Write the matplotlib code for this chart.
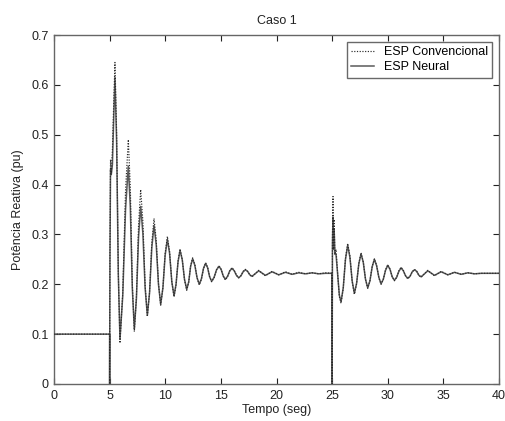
import matplotlib
matplotlib.use("Agg")
import matplotlib.pyplot as plt

plt.rcParams['font.family'] = ['Liberation Sans', 'DejaVu Sans']

# first disturbance (t = 0 .. 25 s)
t_1 = [0, 5.0, 5.0, 5.03, 5.08, 5.15, 5.25, 5.35, 5.48, 5.63, 5.78, 5.93,
       6.18, 6.43, 6.68, 6.86, 7.04, 7.22, 7.41, 7.60, 7.79, 7.99, 8.19, 8.39,
       8.59, 8.79, 8.99, 9.19, 9.39, 9.59, 9.79, 9.99, 10.19, 10.39, 10.59, 10.79,
       10.97, 11.15, 11.33, 11.53, 11.73, 11.93, 12.11, 12.28, 12.46, 12.66, 12.86, 13.06,
       13.25, 13.44, 13.63, 13.81, 13.99, 14.17, 14.39, 14.61, 14.83, 15.02, 15.21, 15.4,
       15.6, 15.8, 16.0, 16.2, 16.4, 16.6, 16.8, 17.0, 17.2, 17.4, 17.6, 17.8,
       18.4, 19.0, 19.6, 20.2, 20.8, 21.4, 22.0, 22.6, 23.2, 23.8, 24.4, 24.98]
conv_1 = [0.1, 0.1, 0.0, 0.26, 0.45, 0.42, 0.47, 0.55, 0.645, 0.504, 0.223, 0.082,
          0.184, 0.388, 0.49, 0.394, 0.201, 0.105, 0.176, 0.319, 0.39, 0.326, 0.199, 0.135,
          0.184, 0.283, 0.332, 0.289, 0.202, 0.158, 0.193, 0.262, 0.296, 0.266, 0.205, 0.175,
          0.199, 0.247, 0.271, 0.250, 0.209, 0.188, 0.204, 0.237, 0.253, 0.240, 0.213, 0.199,
          0.210, 0.232, 0.243, 0.234, 0.215, 0.205, 0.213, 0.229, 0.237, 0.230, 0.216, 0.209,
          0.215, 0.227, 0.233, 0.228, 0.218, 0.213, 0.217, 0.226, 0.230, 0.226, 0.219, 0.215,
          0.228, 0.217, 0.226, 0.219, 0.225, 0.220, 0.224, 0.221, 0.223, 0.221, 0.223, 0.222]
neur_1 = [0.1, 0.1, 0.0, 0.255, 0.43, 0.42, 0.44, 0.52, 0.615, 0.484, 0.221, 0.09,
          0.177, 0.350, 0.437, 0.355, 0.192, 0.11, 0.172, 0.295, 0.356, 0.302, 0.193, 0.138,
          0.183, 0.273, 0.318, 0.279, 0.200, 0.16, 0.193, 0.258, 0.29, 0.262, 0.205, 0.177,
          0.200, 0.245, 0.268, 0.249, 0.210, 0.19, 0.205, 0.236, 0.251, 0.238, 0.213, 0.2,
          0.211, 0.232, 0.242, 0.233, 0.215, 0.206, 0.214, 0.229, 0.236, 0.230, 0.217, 0.21,
          0.216, 0.227, 0.232, 0.227, 0.218, 0.213, 0.217, 0.225, 0.229, 0.226, 0.219, 0.216,
          0.227, 0.218, 0.225, 0.219, 0.224, 0.220, 0.223, 0.221, 0.223, 0.221, 0.222, 0.222]

# second disturbance (t = 25 .. 40 s)
t_2 = [25.0, 25.03, 25.08, 25.12, 25.18, 25.25, 25.35, 25.5, 25.65, 25.8,
       26.0, 26.2, 26.4, 26.6, 26.8, 27.0, 27.2, 27.4, 27.6, 27.8, 28.0, 28.2,
       28.4, 28.6, 28.8, 29.0, 29.2, 29.4, 29.6, 29.8, 30.0, 30.2, 30.4, 30.6,
       30.8, 31.0, 31.2, 31.4, 31.6, 31.8, 32.0, 32.2, 32.4, 32.6, 32.8, 33.0,
       33.6, 34.2, 34.8, 35.4, 36.0, 36.6, 37.2, 37.8, 38.4, 40.0]
conv_2 = [0.0, 0.30, 0.376, 0.27, 0.33, 0.26, 0.27, 0.22, 0.175, 0.162,
          0.192, 0.252, 0.282, 0.257, 0.206, 0.180, 0.201, 0.242, 0.263, 0.245, 0.210, 0.192,
          0.207, 0.236, 0.251, 0.238, 0.213, 0.200, 0.210, 0.229, 0.239, 0.231, 0.215, 0.207,
          0.214, 0.227, 0.234, 0.228, 0.217, 0.211, 0.216, 0.225, 0.230, 0.226, 0.218, 0.214,
          0.228, 0.217, 0.226, 0.219, 0.224, 0.220, 0.223, 0.221, 0.222, 0.222]
neur_2 = [0.0, 0.28, 0.335, 0.27, 0.31, 0.26, 0.26, 0.22, 0.178, 0.165,
          0.193, 0.250, 0.278, 0.254, 0.207, 0.182, 0.202, 0.241, 0.261, 0.244, 0.210, 0.193,
          0.207, 0.235, 0.250, 0.237, 0.214, 0.201, 0.210, 0.228, 0.238, 0.230, 0.215, 0.208,
          0.214, 0.226, 0.233, 0.227, 0.217, 0.212, 0.216, 0.225, 0.229, 0.226, 0.218, 0.215,
          0.227, 0.218, 0.225, 0.219, 0.224, 0.220, 0.223, 0.221, 0.222, 0.222]

x_ticks = [0, 5, 10, 15, 20, 25, 30, 35, 40]
y_ticks = [0, 0.1, 0.2, 0.3, 0.4, 0.5, 0.6, 0.7]
y_labels = ['0', '0.1', '0.2', '0.3', '0.4', '0.5', '0.6', '0.7']

t = t_1 + t_2
conv = conv_1 + conv_2
neur = neur_1 + neur_2

fig = plt.figure(figsize=(5.05, 4.21), dpi=100)
ax = fig.add_axes([54 / 505, 1 - 384 / 421, 445 / 505, 349 / 421])

ax.plot(t, conv, color='#2a2a2a', linestyle=(0, (1, 1.3)), linewidth=0.85,
        label='ESP Convencional', zorder=3)
ax.plot(t, neur, color='#5a5a5a', linestyle='-', linewidth=1.1,
        label='ESP Neural', zorder=2)

ax.set_xlim(0, 40)
ax.set_ylim(0, 0.7)
ax.set_xticks(x_ticks)
ax.set_yticks(y_ticks)
ax.set_yticklabels(y_labels)
ax.tick_params(direction='in', top=True, right=True, length=4, width=0.8,
               labelsize=9, colors='#222222', pad=4)
for s in ax.spines.values():
    s.set_color('#666666')
    s.set_linewidth(1.0)

ax.set_title('Caso 1', fontsize=9, color='#222222', pad=8)
ax.set_xlabel('Tempo (seg)', fontsize=9, color='#222222', labelpad=2)
ax.set_ylabel('Potência Reativa (pu)', fontsize=9, color='#222222', labelpad=5)

leg = ax.legend(loc='upper right', fontsize=9, frameon=True, fancybox=False,
                edgecolor='#444444', borderpad=0.35, handlelength=1.8,
                handletextpad=0.8, labelspacing=0.25, borderaxespad=0.55)
leg.get_frame().set_linewidth(1.0)

fig.savefig('out.png', dpi=100)
